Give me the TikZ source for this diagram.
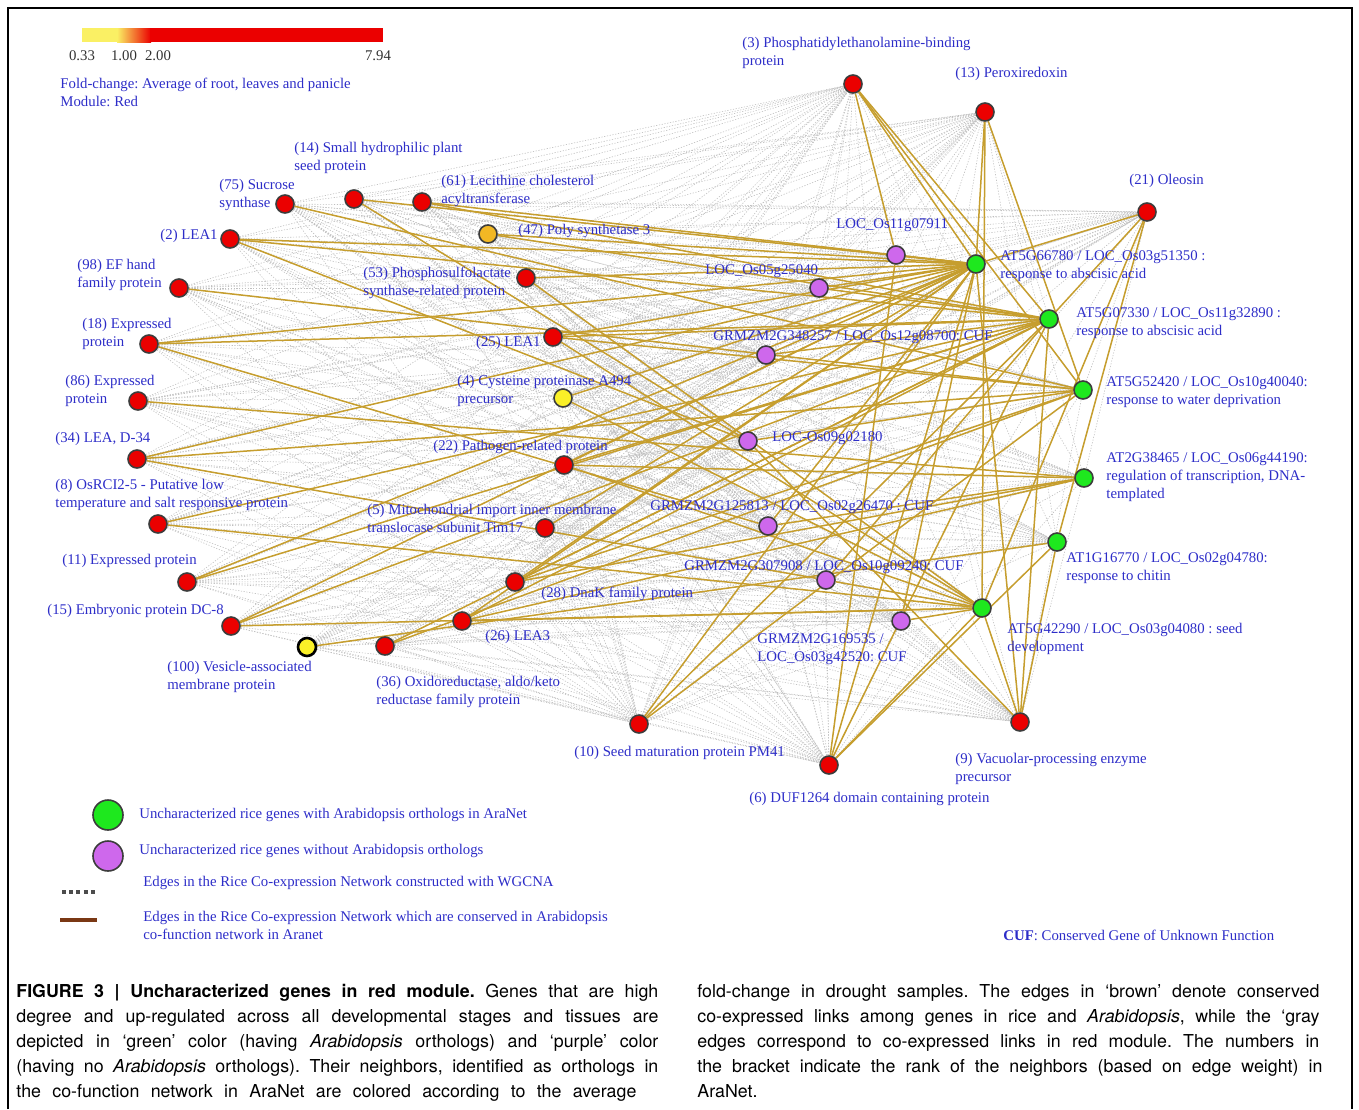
\documentclass[tikz,border=0pt]{standalone}
\usepackage{fontspec}
\setmainfont{Liberation Serif}
\newfontfamily\capfont{TeX Gyre Heros}
\usepackage{tikz}
\usetikzlibrary{backgrounds}
\definecolor{nodered}{RGB}{235,0,0}
\definecolor{nodegreen}{RGB}{30,232,30}
\definecolor{nodepurple}{RGB}{206,104,236}
\definecolor{nodeyellow}{RGB}{250,240,40}
\definecolor{nodeorange}{RGB}{242,184,36}
\definecolor{rimgray}{RGB}{60,60,60}
\definecolor{labelblue}{RGB}{45,45,200}
\definecolor{cuegold}{RGB}{198,158,46}
\definecolor{cuebrown}{RGB}{122,56,20}
\definecolor{cbyellow}{RGB}{250,240,100}
\definecolor{ticktext}{RGB}{50,50,50}
\frenchspacing

\begin{document}
\begin{tikzpicture}[x=0.5pt,y=-0.5pt,
    gene/.style={circle,draw=rimgray,line width=0.8pt,minimum size=9pt,inner sep=0pt},
    redgene/.style={gene,fill=nodered},
    greengene/.style={gene,fill=nodegreen},
    purplegene/.style={gene,fill=nodepurple},
    lbl/.style={text=labelblue,font=\fontsize{7.4}{9}\selectfont,inner sep=0pt,align=left,anchor=north west},
    cuedge/.style={draw=cuegold,line width=0.75pt},
    wgedge/.style={draw=gray!50,line width=0.3pt,dash pattern=on 0.6pt off 0.8pt},
    captext/.style={anchor=north west,inner sep=0pt,align=left,font=\capfont\fontsize{8.9}{12.5}\selectfont}]
\useasboundingbox (0,0) rectangle (1359,1109);
\draw[line width=1pt] (8,1109) -- (8,8) -- (1352,8) -- (1352,1109);

\fill[cbyellow] (82,28) rectangle (118,42);
\shade[left color=cbyellow,right color=nodered] (117,28) rectangle (151,42);
\fill[nodered] (150,28) rectangle (383,42);
\node[lbl,text=ticktext,anchor=north] (cb1) at (82,50) {0.33};
\node[lbl,text=ticktext,anchor=north] (cb2) at (124,50) {1.00};
\node[lbl,text=ticktext,anchor=north] (cb3) at (158,50) {2.00};
\node[lbl,text=ticktext,anchor=north] (cb4) at (378,50) {7.94};
\node[lbl] (fcnote) at (60,78) {Fold-change: Average of root, leaves and panicle\\Module: Red};

\node[redgene] (n3) at (853,84) {};
\node[redgene] (n13) at (985,112) {};
\node[redgene] (n21) at (1147,212) {};
\node[redgene] (n14) at (354,199) {};
\node[redgene] (n75) at (285,204) {};
\node[redgene] (n61) at (422,202) {};
\node[gene,fill=nodeorange] (n47) at (488,234) {};
\node[redgene] (n2) at (230,239) {};
\node[redgene] (n98) at (179,288) {};
\node[redgene] (n53) at (526,278) {};
\node[redgene] (n18) at (149,344) {};
\node[redgene] (n25) at (553,337) {};
\node[redgene] (n86) at (138,401) {};
\node[gene,fill=nodeyellow] (n4) at (563,398) {};
\node[redgene] (n34) at (137,459) {};
\node[redgene] (n22) at (564,465) {};
\node[redgene] (n8) at (158,524) {};
\node[redgene] (n5) at (545,528) {};
\node[redgene] (n11) at (187,582) {};
\node[redgene] (n28) at (515,582) {};
\node[redgene] (n15) at (231,626) {};
\node[gene,fill=nodeyellow,draw=black,line width=1.3pt] (n100) at (307,647) {};
\node[redgene] (n36) at (385,646) {};
\node[redgene] (n26) at (462,621) {};
\node[redgene] (n10) at (639,724) {};
\node[redgene] (n6) at (829,765) {};
\node[redgene] (n9) at (1020,722) {};

\node[purplegene] (p1) at (896,255) {};
\node[purplegene] (p2) at (819,288) {};
\node[purplegene] (p3) at (766,355) {};
\node[purplegene] (p4) at (748,441) {};
\node[purplegene] (p5) at (768,526) {};
\node[purplegene] (p6) at (826,580) {};
\node[purplegene] (p7) at (901,621) {};

\node[greengene] (g1) at (976,264) {};
\node[greengene] (g2) at (1049,319) {};
\node[greengene] (g3) at (1083,390) {};
\node[greengene] (g4) at (1084,478) {};
\node[greengene] (g5) at (1057,542) {};
\node[greengene] (g6) at (982,608) {};

\begin{pgfonlayer}{background}
\foreach \a in {n14,n75,n61,n47,n2,n98,n53,n18,n25,n86,n4,n34,n22,n8,n5,n11,n28,n15,n100,n36,n26}
    \foreach \b in {g1,g2,g3,g4,g5,g6,p1,p2,p3,p4,p5,p6,p7,n3,n13,n21,n10,n6,n9}
        \draw[wgedge] (\a) -- (\b);
\foreach \a in {n3,n13,n21,n10,n6,n9}
    \foreach \b in {g1,g2,g3,g4,g5,g6,p1,p2,p3,p4,p5,p6,p7}
        \draw[wgedge] (\a) -- (\b);
\foreach \b in {n3,n13,n21,n14,n61,n2,n47,n53,n18,n34,n11,n15,n25,n4,n22,n5,n28,n26,n10,n6,n9,p1,p2,p3,p5,p7}
    \draw[cuedge] (g1) -- (\b);
\foreach \b in {n3,n21,n61,n2,n47,n18,n8,n11,n15,n36,n25,n22,n28,n26,n10,n6,n9,p2,p3,p6}
    \draw[cuedge] (g2) -- (\b);
\foreach \b in {n3,n13,n75,n98,n34,n36,n25,n28,n10,p4}
    \draw[cuedge] (g3) -- (\b);
\foreach \b in {n86,n22,n26,n28,p5}
    \draw[cuedge] (g4) -- (\b);
\foreach \b in {n21,n100,n6,n9}
    \draw[cuedge] (g5) -- (\b);
\foreach \b in {n13,n21,n8,n15,n53,n4,n22,n25,n26,n6,n9,p6,p7}
    \draw[cuedge] (g6) -- (\b);
\foreach \a/\b in {p1/n3,p1/n6,p4/n2,p4/n9,p4/n14,p5/n18,p6/n34}
    \draw[cuedge] (\a) -- (\b);
\end{pgfonlayer}

\node[lbl] (l3) at (742,37) {(3) Phosphatidylethanolamine-binding\\protein};
\node[lbl] (l13) at (955,67) {(13) Peroxiredoxin};
\node[lbl] (l21) at (1129,174) {(21) Oleosin};
\node[lbl] (l14) at (294,142) {(14) Small hydrophilic plant\\seed protein};
\node[lbl] (l75) at (219,179) {(75) Sucrose\\synthase};
\node[lbl] (l61) at (441,175) {(61) Lecithine cholesterol\\acyltransferase};
\node[lbl] (l47) at (518,224) {(47) Poly synthetase 3};
\node[lbl,anchor=north east] (l2) at (218,229) {(2) LEA1};
\node[lbl] (l98) at (77,259) {(98) EF hand\\family protein};
\node[lbl] (l53) at (363,267) {(53) Phosphosulfolactate\\synthase-related protein};
\node[lbl] (l18) at (82,318) {(18) Expressed\\protein};
\node[lbl,anchor=north east] (l25) at (541,336) {(25) LEA1};
\node[lbl] (l86) at (65,375) {(86) Expressed\\protein};
\node[lbl] (l4) at (457,375) {(4) Cysteine proteinase A494\\precursor};
\node[lbl] (l34) at (55,432) {(34) LEA, D-34};
\node[lbl] (l22) at (433,440) {(22) Pathogen-related protein};
\node[lbl] (l8) at (55,479) {(8) OsRCI2-5 - Putative low\\temperature and salt responsive protein};
\node[lbl] (l5) at (367,504) {(5) Mitochondrial import inner membrane\\translocase subunit Tim17};
\node[lbl] (l11) at (62,554) {(11) Expressed protein};
\node[lbl] (l28) at (541,587) {(28) DnaK family protein};
\node[lbl] (l15) at (47,604) {(15) Embryonic protein DC-8};
\node[lbl] (l100) at (167,661) {(100) Vesicle-associated\\membrane protein};
\node[lbl] (l36) at (376,676) {(36) Oxidoreductase, aldo/keto\\reductase family protein};
\node[lbl] (l26) at (485,630) {(26) LEA3};
\node[lbl] (l10) at (574,746) {(10) Seed maturation protein PM41};
\node[lbl] (l6) at (749,792) {(6) DUF1264 domain containing protein};
\node[lbl] (l9) at (955,753) {(9) Vacuolar-processing enzyme\\precursor};

\node[lbl] (lp1) at (836,218) {LOC\_Os11g07911};
\node[lbl] (lp2) at (705,264) {LOC\_Os05g25040};
\node[lbl] (lp3) at (713,330) {GRMZM2G348257 / LOC\_Os12g08700: CUF};
\node[lbl] (lp4) at (772,431) {LOC-Os09g02180};
\node[lbl] (lp5) at (650,500) {GRMZM2G125813 / LOC\_Os02g26470 : CUF};
\node[lbl] (lp6) at (684,560) {GRMZM2G307908 / LOC\_Os10g09240: CUF};
\node[lbl] (lp7) at (757,633) {GRMZM2G169535 /\\LOC\_Os03g42520: CUF};

\node[lbl] (lg1) at (1000,250) {AT5G66780 / LOC\_Os03g51350 :\\response to abscisic acid};
\node[lbl] (lg2) at (1076,307) {AT5G07330 / LOC\_Os11g32890 :\\response to abscisic acid};
\node[lbl] (lg3) at (1106,376) {AT5G52420 / LOC\_Os10g40040:\\response to water deprivation};
\node[lbl] (lg4) at (1106,452) {AT2G38465 / LOC\_Os06g44190:\\regulation of transcription, DNA-\\templated};
\node[lbl] (lg5) at (1066,552) {AT1G16770 / LOC\_Os02g04780:\\response to chitin};
\node[lbl] (lg6) at (1007,623) {AT5G42290 / LOC\_Os03g04080 : seed\\development};

\node[gene,fill=nodegreen,minimum size=15pt] (keyg) at (108,815) {};
\node[gene,fill=nodepurple,minimum size=15pt] (keyp) at (108,856) {};
\coordinate (d1) at (62,892);
\coordinate (d2) at (97,892);
\draw[draw=black!70,line width=2pt,dash pattern=on 2pt off 1.6pt] (d1) -- (d2);
\coordinate (b1) at (60,920);
\coordinate (b2) at (97,920);
\draw[draw=cuebrown,line width=2.4pt] (b1) -- (b2);
\node[lbl] (keygt) at (139,808) {Uncharacterized rice genes with Arabidopsis orthologs in AraNet};
\node[lbl] (keypt) at (139,844) {Uncharacterized rice genes without Arabidopsis orthologs};
\node[lbl] (keydt) at (143,876) {Edges in the Rice Co-expression Network constructed with WGCNA};
\node[lbl] (keybt) at (143,911) {Edges in the Rice Co-expression Network which are conserved in Arabidopsis\\co-function network in Aranet};
\node[lbl] (cufnote) at (1003,930) {\textbf{CUF}: Conserved Gene of Unknown Function};

\node[captext] (capl) at (16,984)
  {\makebox[321pt][s]{\textbf{FIGURE 3 | Uncharacterized genes in red module.} Genes that are high}\\
   \makebox[321pt][s]{degree and up-regulated across all developmental stages and tissues are}\\
   \makebox[321pt][s]{depicted in ‘green’ color (having \textit{Arabidopsis} orthologs) and ‘purple’ color}\\
   \makebox[321pt][s]{(having no \textit{Arabidopsis} orthologs). Their neighbors, identified as orthologs in}\\
   \makebox[310pt][s]{the co-function network in AraNet are colored according to the average}};
\node[captext] (capr) at (697,984)
  {\makebox[311pt][s]{fold-change in drought samples. The edges in ‘brown’ denote conserved}\\
   \makebox[311pt][s]{co-expressed links among genes in rice and \textit{Arabidopsis}, while the ‘gray}\\
   \makebox[311pt][s]{edges correspond to co-expressed links in red module. The numbers in}\\
   \makebox[312.5pt][s]{the bracket indicate the rank of the neighbors (based on edge weight) in}\\
   AraNet.};
\end{tikzpicture}
\end{document}
